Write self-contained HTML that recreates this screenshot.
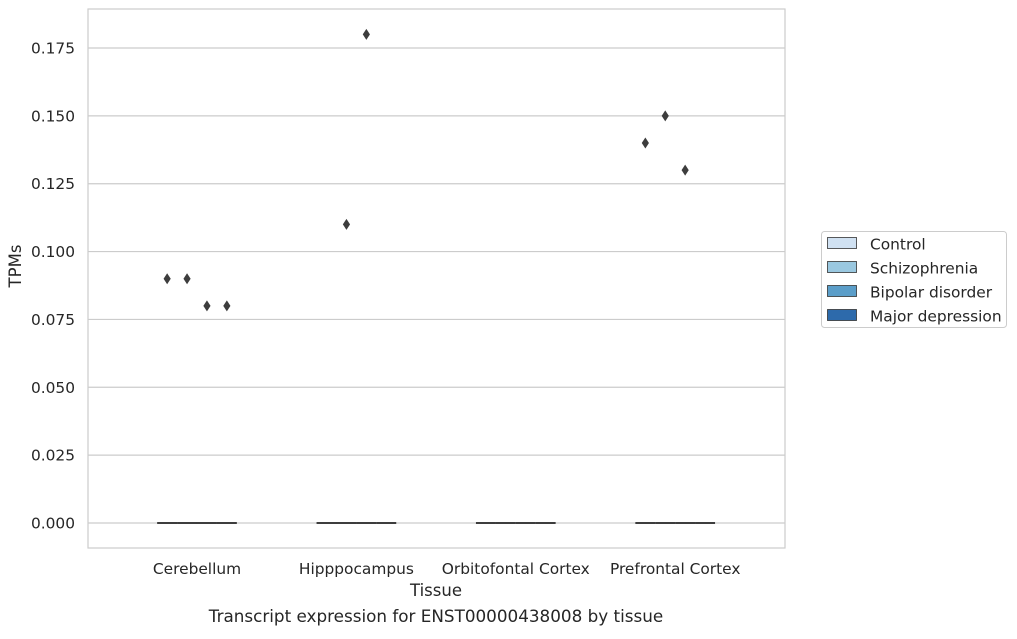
<!DOCTYPE html>
<html><head><meta charset="utf-8"><style>
body{margin:0;background:#fff;}
svg text{font-family:"DejaVu Sans","Liberation Sans",sans-serif;fill:#262626;}
</style></head><body>
<svg id="chart" width="1017" height="634" xmlns="http://www.w3.org/2000/svg">
<rect x="88" y="9" width="697" height="539" fill="#fff" stroke="#cccccc" stroke-width="1.2"/>
<g id="grid"></g><g id="marks"></g><g id="axes"></g>
<text x="436" y="596" font-size="16.5" text-anchor="middle">Tissue</text>
<text x="21" y="266" font-size="16.5" text-anchor="middle" transform="rotate(-90 21 266)">TPMs</text>
<text x="436" y="622" font-size="16.8" text-anchor="middle">Transcript expression for ENST00000438008 by tissue</text>
<g>
<rect x="821.5" y="231.5" width="185" height="96" rx="3" fill="#fff" stroke="#cccccc"/>
<g id="legend"></g>
</g>
</svg>
<script>
const categories=["Cerebellum","Hipppocampus","Orbitofontal Cortex","Prefrontal Cortex"];
const hues=["Control","Schizophrenia","Bipolar disorder","Major depression"];
const hueColors=["#d0e1f2","#9ac8e0","#5b9ec9","#2d6aab"];
const yTicks=[0,0.025,0.05,0.075,0.1,0.125,0.15,0.175];
const tickLabels=["0.000","0.025","0.050","0.075","0.100","0.125","0.150","0.175"];
// outliers: [categoryIndex, hueIndex, value]
const outliers=[[0,0,0.09],[0,1,0.09],[0,2,0.08],[0,3,0.08],[1,1,0.11],[1,2,0.18],[3,0,0.14],[3,1,0.15],[3,2,0.13]];
const boxValues=[[0,0,0,0],[0,0,0,0],[0,0,0,0],[0,0,0,0]];
const NS="http://www.w3.org/2000/svg";
function y(v){return 523-(v/0.175)*475;}
function xc(i){return 197+i*159.4;}
function xh(i,h){return xc(i)+(h-1.5)*19.9;}
function mk(tag,attrs,parent){const e=document.createElementNS(NS,tag);for(const k in attrs)e.setAttribute(k,attrs[k]);document.getElementById(parent).appendChild(e);return e;}
yTicks.forEach((t,i)=>{
 const g=mk("line",{x1:88,x2:785,y1:y(t),y2:y(t),stroke:"#cccccc","stroke-width":1.2},"grid");
 
 
 const l=mk("text",{x:75,y:y(t)+5.5,"font-size":15.4,"text-anchor":"end"},"axes");
 l.textContent=tickLabels[i];
 
 
});
categories.forEach((c,i)=>{
 const l=mk("text",{x:xc(i),y:574,"font-size":15.4,"text-anchor":"middle"},"axes");
 l.textContent=c;
 
 
 hues.forEach((h,j)=>{
  const v=boxValues[i][j];
  const b=mk("line",{x1:xh(i,j)-10,x2:xh(i,j)+10,y1:y(v),y2:y(v),stroke:"#3d3d3d","stroke-width":2},"marks");
  
  
 });
});
outliers.forEach(o=>{
 const cx=xh(o[0],o[1]),cy=y(o[2]);
 const p=mk("polygon",{points:`${cx},${cy-5.5} ${cx+3.6},${cy} ${cx},${cy+5.5} ${cx-3.6},${cy}`,fill:"#3d3d3d"},"marks");
 
 
});
hues.forEach((h,j)=>{
 const yy=244+j*24;
 const r=mk("rect",{x:827.5,y:yy-6.5,width:29,height:11,fill:hueColors[j],stroke:"#333","stroke-width":0.8},"legend");
 
 
 const t=mk("text",{x:870,y:yy+5.5,"font-size":15.4},"legend");
 t.textContent=h;
 
 
});
</script>
</body></html>
